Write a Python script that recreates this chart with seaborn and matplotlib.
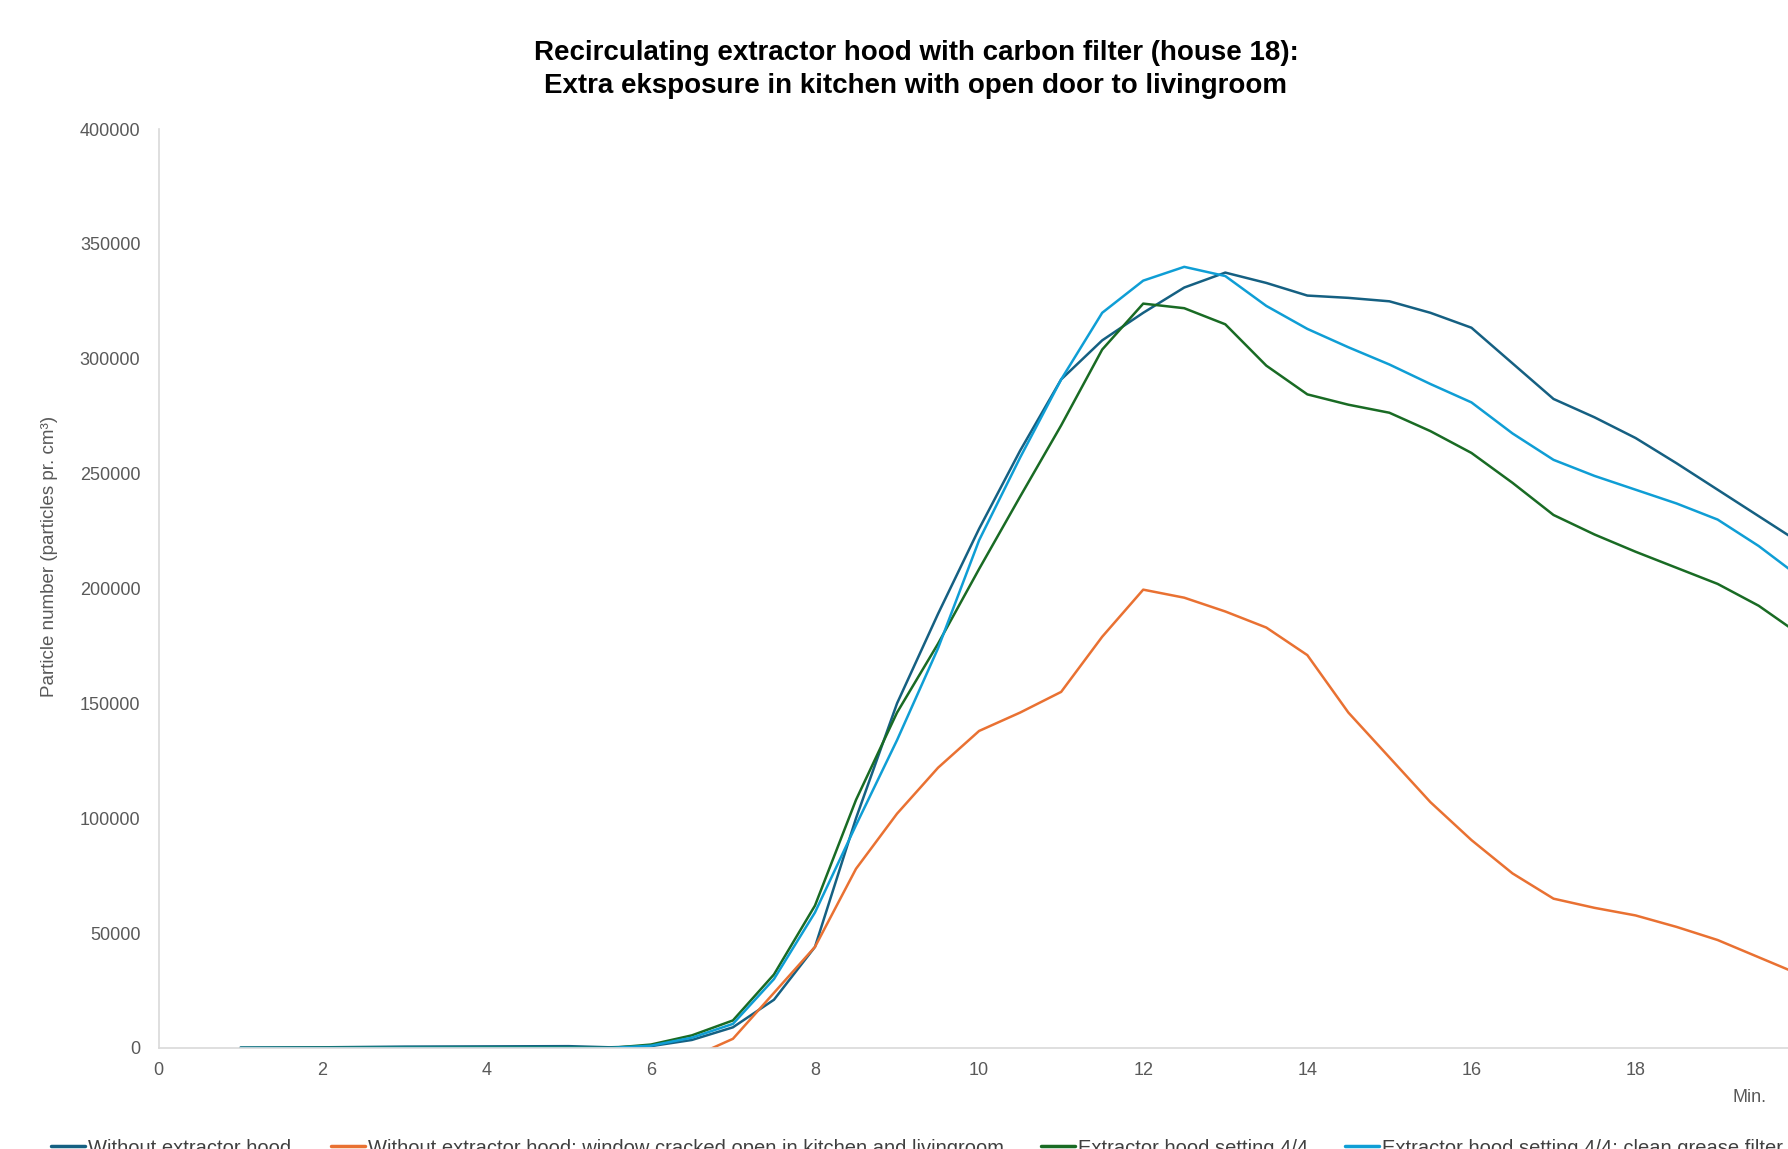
import numpy as np
import pandas as pd
import matplotlib
matplotlib.use("Agg")
import matplotlib.pyplot as plt
import seaborn as sns

# minutes after start
minutes = [1, 2, 3, 4, 5, 5.5, 6, 6.5, 7, 7.5, 8, 8.5, 9, 9.5, 10, 10.5, 11, 11.5,
           12, 12.5, 13, 13.5, 14, 14.5, 15, 15.5, 16, 16.5, 17, 17.5, 18, 18.5,
           19, 19.5, 20]

no_hood = [200, 300, 600, 700, 800, 300, 800, 3500, 9000, 21000, 44000, 100000,
           150000, 189000, 226000, 260000, 291000, 308000, 320000, 331000, 337500,
           333000, 327500, 326500, 325000, 320000, 313500, 298000, 282500, 274500,
           265500, 254500, 243000, 231500, 220000]

window_open = [-2000, -2000, -2000, -2000, -2000, -2500, -4000, -4000, 4000, 24000,
               44000, 78000, 102000, 122000, 138000, 146000, 155000, 179000, 199500,
               196000, 190000, 183000, 171000, 146000, 126500, 107000, 90500, 76000,
               65000, 61000, 57700, 52700, 47000, 39500, 32000]

hood_4 = [0, 100, 200, 300, 300, 0, 1500, 5500, 12000, 32000, 62000, 108000,
          146000, 176000, 208500, 240000, 271000, 304000, 324000, 322000, 315000,
          297000, 284500, 280000, 276500, 268500, 259000, 246000, 232000, 223500,
          216000, 209000, 202000, 192500, 180000]

hood_4_clean = [0, 0, 100, 100, 100, 0, 1000, 4500, 10500, 30000, 59000, 97000,
                134000, 174000, 221000, 257000, 291000, 320000, 334000, 340000,
                336000, 323000, 313000, 305000, 297500, 289000, 281000, 267500,
                256000, 249000, 243000, 237000, 230000, 218500, 205000]

labels = ["Without extractor hood",
          "Without extractor hood; window cracked open in kitchen and livingroom",
          "Extractor hood setting 4/4",
          "Extractor hood setting 4/4; clean grease filter"]
colors = ["#156082", "#E97132", "#196B24", "#0F9ED5"]

series = [no_hood, window_open, hood_4, hood_4_clean]
df = pd.concat([pd.DataFrame({"minute": minutes, "particles": s, "series": lab})
                for s, lab in zip(series, labels)], ignore_index=True)

sns.set_style("white")
plt.rcParams['font.family'] = ['Liberation Sans', 'DejaVu Sans']

fig = plt.figure(figsize=(17.88, 11.49), dpi=100)
xmax = 22
# the original chart runs on past the right edge of the picture
ax = fig.add_axes([158.5/1788, 101/1149, xmax*82.06/1788, 919/1149])

sns.lineplot(data=df, x="minute", y="particles", hue="series", hue_order=labels,
             palette=dict(zip(labels, colors)), linewidth=1.8, sort=False,
             legend=False, ax=ax)

ax.set_xlim(0, xmax)
ax.set_ylim(0, 400000)
ax.set_xticks(np.arange(0, 19, 2))
ax.set_yticks(np.arange(0, 400001, 50000))
ax.set_xlabel("")
ax.set_ylabel("")
ax.tick_params(axis='both', length=0, labelsize=13, labelcolor="#595959")
ax.tick_params(axis='y', pad=13)
ax.tick_params(axis='x', pad=10)
for side in ['top', 'right']:
    ax.spines[side].set_visible(False)
for side in ['left', 'bottom']:
    ax.spines[side].set_color("#D9D9D9")
    ax.spines[side].set_linewidth(1.2)

fig.text(916/1788, 1 - 69.5/1149,
         "Recirculating extractor hood with carbon filter (house 18):\n"
         "Extra eksposure in kitchen with open door to livingroom",
         ha='center', va='center', fontsize=20, fontweight='bold',
         linespacing=1.35, color="black")
fig.text(50/1788, 1 - 556/1149, "Particle number (particles pr. cm³)",
         rotation=90, ha='center', va='center', fontsize=13.5, color="#595959")
fig.text(1749/1788, 1 - 1097/1149, "Min.", ha='center', va='center',
         fontsize=13, color="#595959")

# legend entries spread along the bottom edge, like the original
leg_x = [51, 331, 1041, 1345]
for lab, col, lx in zip(labels, colors, leg_x):
    h = plt.Line2D([], [], color=col, linewidth=2.5)
    fig.legend(handles=[h], labels=[lab], loc='center left',
               bbox_to_anchor=(lx/1788, 1 - 1148/1149), frameon=False,
               borderpad=0, borderaxespad=0, handlelength=1.7,
               handletextpad=0.15, prop={'size': 14.5},
               labelcolor="#404040")

fig.savefig("out.png", dpi=100)
